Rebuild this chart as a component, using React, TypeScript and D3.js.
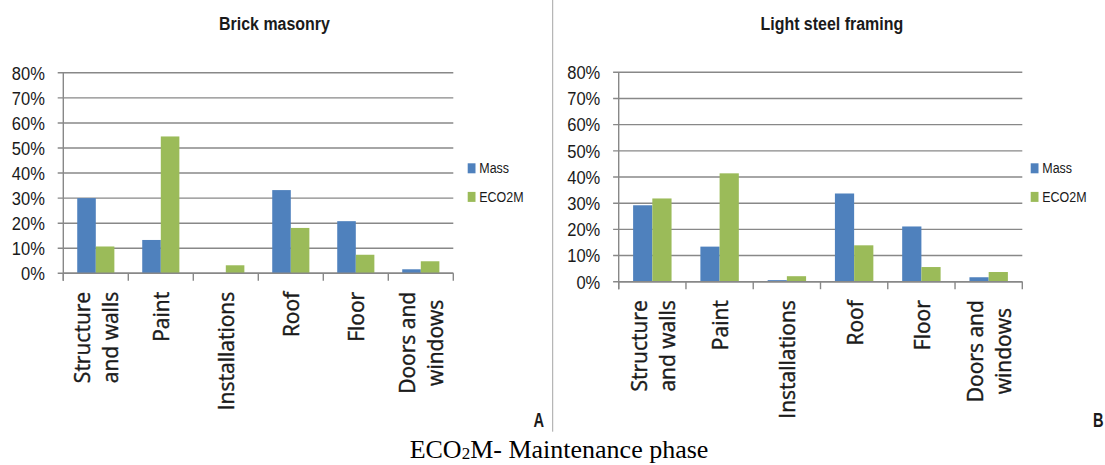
import React, { useEffect, useRef } from "react";
import * as d3 from "d3";

const categories = ["Structure and walls", "Paint", "Installations", "Roof", "Floor", "Doors and windows"];
const categoryLines = [["Structure", "and walls"], ["Paint"], ["Installations"], ["Roof"], ["Floor"], ["Doors and", "windows"]];
const seriesNames = ["Mass", "ECO2M"];
const seriesColors = ["#4F81BD", "#9BBB59"];

const brickMass = [30.0, 13.3, 0, 33.2, 20.8, 1.6];
const brickEco2m = [10.7, 54.6, 3.2, 18.1, 7.4, 4.8];
const steelMass = [29.2, 13.4, 0.6, 33.7, 21.1, 1.7];
const steelEco2m = [31.8, 41.4, 2.1, 13.9, 5.6, 3.7];

const yTickValues = [0, 10, 20, 30, 40, 50, 60, 70, 80];
const panelTitles = ["Brick masonry", "Light steel framing"];
const panelLetters = ["A", "B"];

const panels = [
  { title: panelTitles[0], letter: panelLetters[0], mass: brickMass, eco: brickEco2m,
    left: 63.3, right: 453.3, top: 72.8, bottom: 273.3, titleX: 274.5, legendX: 467.7, letterX: 544 },
  { title: panelTitles[1], letter: panelLetters[1], mass: steelMass, eco: steelEco2m,
    left: 618.7, right: 1022.3, top: 72.3, bottom: 281.7, titleX: 831.8, legendX: 1030.7, letterX: 1103.5 },
];

const SANS = "'Liberation Sans', Arial, sans-serif";
const LABEL_FONT = "'Open Sans', 'Liberation Sans', sans-serif";
const GRID = "#888888";
const TEXT = "#1a1a1a";

export default function App() {
  const ref = useRef<SVGSVGElement | null>(null);

  useEffect(() => {
    const svg = d3.select(ref.current);
    svg.selectAll("*").remove();

    const addText = (g: any, str: string, x: number, y: number, size: number, sx: number, anchor: string, weight = "normal") =>
      g.append("text")
        .attr("transform", `translate(${x},${y}) scale(${sx},1)`)
        .attr("font-family", SANS)
        .attr("font-size", size)
        .attr("font-weight", weight)
        .attr("text-anchor", anchor)
        .attr("fill", TEXT)
        .text(str);

    panels.forEach((p) => {
      const g = svg.append("g");
      const x = d3.scaleBand().domain(categories).range([p.left, p.right]).padding(0);
      const xs = d3.scaleBand().domain(seriesNames).range([0, x.bandwidth()]).paddingInner(0).paddingOuter(0.75);
      const y = d3.scaleLinear().domain([0, 80]).range([p.bottom, p.top]);

      // gridlines + left ticks
      g.selectAll(".grid").data(yTickValues).enter().append("line")
        .attr("x1", p.left - 5.6).attr("x2", p.right)
        .attr("y1", (d) => y(d)).attr("y2", (d) => y(d))
        .attr("stroke", GRID).attr("stroke-width", 1.4);

      // bars
      const rows = categories.map((c, i) => ({ c, vals: [p.mass[i], p.eco[i]] }));
      rows.forEach((r) => {
        r.vals.forEach((v, si) => {
          if (v <= 0) return;
          g.append("rect")
            .attr("x", (x(r.c) as number) + (xs(seriesNames[si]) as number))
            .attr("y", y(v))
            .attr("width", xs.bandwidth())
            .attr("height", y(0) - y(v))
            .attr("fill", seriesColors[si]);
        });
      });

      // axes
      g.append("line").attr("x1", p.left).attr("x2", p.left).attr("y1", y(80)).attr("y2", p.bottom + 7.5)
        .attr("stroke", GRID).attr("stroke-width", 1.4);
      g.append("line").attr("x1", p.left).attr("x2", p.right).attr("y1", y(0)).attr("y2", y(0))
        .attr("stroke", GRID).attr("stroke-width", 1.4);
      const bounds = categories.map((c) => x(c) as number).concat([p.right]);
      bounds.forEach((bx) => {
        g.append("line").attr("x1", bx).attr("x2", bx).attr("y1", p.bottom).attr("y2", p.bottom + 7.5)
          .attr("stroke", GRID).attr("stroke-width", 1.4);
      });

      // y labels
      yTickValues.forEach((t) => {
        addText(g, `${t}%`, p.left - 18.4, y(t) + 6.8, 19, 0.87, "end");
      });

      // x labels
      const top = p.bottom + 18.5;
      const cap = 15, L = 28.3;
      categories.forEach((c, ci) => {
        const lines = categoryLines[ci];
        const cx = (x(c) as number) + x.bandwidth() / 2;
        const texts: any[] = [];
        const lg = g.append("g");
        lines.forEach((ln) => {
          const t = lg.append("text")
            .attr("font-family", LABEL_FONT)
            .attr("font-size", 21)
            .attr("fill", TEXT)
            .attr("stroke", TEXT)
            .attr("stroke-width", 0.4)
            .attr("text-anchor", "middle")
            .text(ln);
          texts.push(t);
        });
        const maxLen = d3.max(texts, (t: any) => (t.node() as SVGTextElement).getComputedTextLength()) || 0;
        texts.forEach((t, i) => {
          const bx = cx + cap / 2 + (i - (lines.length - 1) / 2) * L + 1;
          t.attr("transform", `translate(${bx},${top + maxLen / 2}) rotate(-90)`);
        });
      });

      // legend
      seriesNames.forEach((s, si) => {
        const ly = 163.3 + si * 28.6;
        g.append("rect").attr("x", p.legendX).attr("y", ly).attr("width", 7.8).attr("height", 10)
          .attr("fill", seriesColors[si]);
        addText(g, s, p.legendX + 11.6, ly + 10, 14.5, 0.86, "start");
      });

      // title
      addText(g, p.title, p.titleX, 29.5, 19, 0.84, "middle", "bold");
      // panel letter
      addText(g, p.letter, p.letterX, 426.7, 19.5, 0.75, "end", "bold");
    });

    // separator
    svg.append("line").attr("x1", 552.7).attr("x2", 552.7).attr("y1", 0).attr("y2", 431.7)
      .attr("stroke", "#a6a6a6").attr("stroke-width", 1);

    // caption
    const capT = svg.append("text")
      .attr("x", 559).attr("y", 458.3)
      .attr("text-anchor", "middle")
      .attr("font-family", "'Liberation Serif', 'Times New Roman', serif")
      .attr("font-size", 26)
      .attr("fill", "#000");
    capT.append("tspan").text("ECO");
    capT.append("tspan").attr("font-size", 17).attr("dy", 1).text("2");
    capT.append("tspan").attr("dy", -1).text("M- Maintenance phase");
  }, []);

  return (
    <svg ref={ref} width={1105} height={465}
      style={{ position: "absolute", left: 0, top: 0, background: "#fff" }} />
  );
}
